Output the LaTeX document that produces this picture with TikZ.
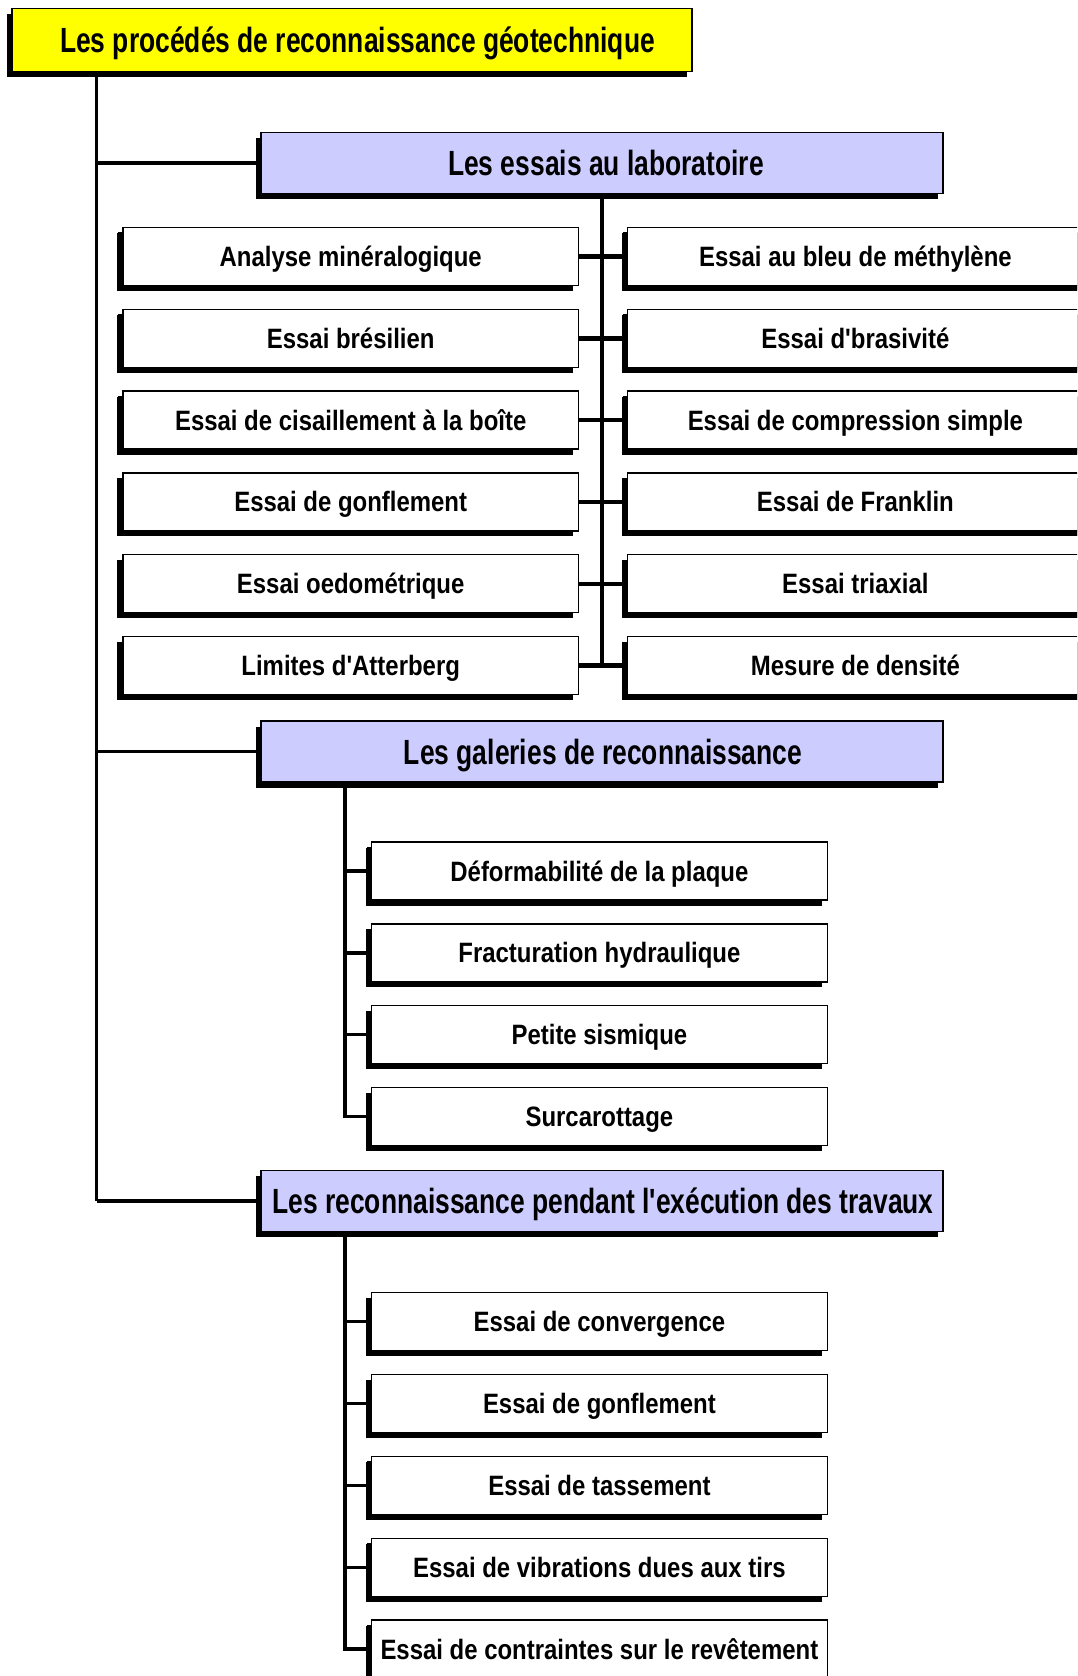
\documentclass[tikz,border=0pt]{standalone}
\usepackage{fontspec}
\setmainfont{Liberation Sans}
\newfontfamily\headfont{Liberation Sans}[FakeStretch=0.755]
\newfontfamily\itemfont{Liberation Sans}[FakeStretch=0.855]
\usetikzlibrary{shadows}
\definecolor{lav}{RGB}{204,204,255}
\definecolor{ttl}{RGB}{255,255,0}
\begin{document}
\begin{tikzpicture}[x=1pt,y=-1pt,
  basebox/.style={draw=black, line width=1.3pt, inner sep=0pt, text depth=0pt,
    general shadow={fill=black, shadow xshift=-5.5pt, shadow yshift=-5.5pt}},
  titlebox/.style={basebox, fill=ttl, minimum width=680pt, minimum height=63pt,
    text height=25pt, font=\headfont\bfseries\fontsize{35}{35}\selectfont},
  headbox/.style={basebox, fill=lav, minimum width=682pt, minimum height=61pt,
    text height=25pt, font=\headfont\bfseries\fontsize{35}{35}\selectfont},
  itembox/.style={basebox, fill=white, minimum width=455.5pt, minimum height=58pt,
    text height=20pt, font=\itemfont\bfseries\fontsize{28}{28}\selectfont,
    general shadow={fill=black, shadow xshift=-5pt, shadow yshift=-5pt}},
  thinline/.style={line width=3.4pt, draw=black},
  thickline/.style={line width=4.6pt, draw=black}]
\clip (0,0) rectangle (1077,1676);
\fill[white] (0,0) rectangle (1077,1676);

% top
\node[titlebox] (title) at (352,39.7) {\hspace*{11pt}Les procédés de reconnaissance géotechnique};
\node[headbox] (lab) at (602,163) {\hspace*{8pt}Les essais au laboratoire};
\node[headbox] (gal) at (602,751.5) {\hspace*{2pt}Les galeries de reconnaissance};
\node[headbox] (rec) at (602,1201) {\hspace*{2pt}Les reconnaissance pendant l'exécution des travaux};

% lab items
\foreach \i/\ltxt/\rtxt in {1/Analyse minéralogique/Essai au bleu de méthylène,
  2/Essai brésilien/Essai d'brasivité,
  3/Essai de cisaillement à la boîte/Essai de compression simple,
  4/Essai de gonflement/Essai de Franklin,
  5/Essai oedométrique/Essai triaxial,
  6/Limites d'Atterberg/Mesure de densité}{
  \node[itembox] (L\i) at (350.7,{256.4+81.85*(\i-1)}) {\ltxt};
  \node[itembox] (R\i) at (855.4,{256.4+81.85*(\i-1)}) {\rtxt};
}

% galeries items
\foreach \i/\txt in {1/Déformabilité de la plaque, 2/Fracturation hydraulique,
  3/Petite sismique, 4/Surcarottage}{
  \node[itembox] (G\i) at (599.4,{871+81.85*(\i-1)}) {\txt};
}

% execution items
\foreach \i/\txt in {1/Essai de convergence, 2/Essai de gonflement,
  3/Essai de tassement, 4/Essai de vibrations dues aux tirs,
  5/Essai de contraintes sur le revêtement}{
  \node[itembox] (E\i) at (599.4,{1321.7+81.85*(\i-1)}) {\txt};
}

% trunk
\coordinate (trunk) at (96.7,0);
\draw[thinline] (title.south -| trunk) -- (rec.west -| trunk);
\draw[thinline] (lab.west -| trunk) -- (lab.west);
\draw[thinline] (gal.west -| trunk) -- (gal.west);
\draw[thinline] (rec.west -| trunk) -- (rec.west);

% lab connectors
\draw[thickline] (lab.south) -- (lab.south |- L6.east);
\foreach \i in {1,...,6}{
  \draw[thickline] (L\i.east) -- (R\i.west);
}

% galeries connectors
\coordinate (gx) at (345,0);
\draw[thinline] (gal.south -| gx) -- (gx |- G4.west) -- (G4.west);
\foreach \i in {1,2,3}{
  \draw[thinline] (gx |- G\i.west) -- (G\i.west);
}

% execution connectors
\draw[thinline] (rec.south -| gx) -- (gx |- E5.west) -- (E5.west);
\foreach \i in {1,2,3,4}{
  \draw[thinline] (gx |- E\i.west) -- (E\i.west);
}
\end{tikzpicture}
\end{document}
